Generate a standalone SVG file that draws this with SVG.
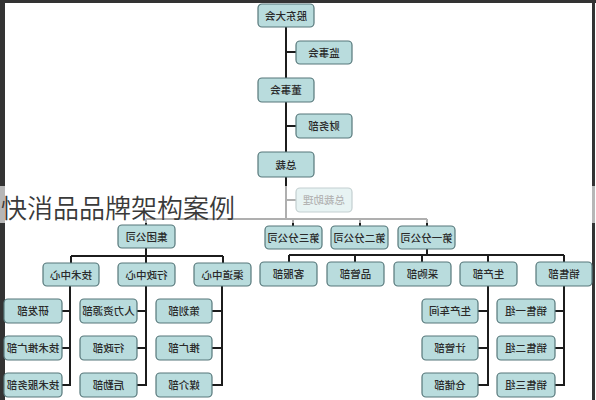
<svg xmlns="http://www.w3.org/2000/svg" width="596" height="400" viewBox="0 0 596 400">
<style>
.b rect{fill:#b9dcdd;stroke:#56777a;stroke-width:1.2}
.b text{font-family:"Noto Sans CJK SC","Noto Sans",sans-serif;font-size:10.5px;font-weight:500;fill:#2a2a2a;text-anchor:middle}
.c{stroke:#1c1c1c;stroke-width:2;fill:none}
.frame{stroke:#333;fill:none}
</style>
<rect x="0" y="0" width="596" height="400" fill="#fff"/>
<g id="frame">
<line class="frame" x1="1" y1="0" x2="1" y2="400" stroke="#999" stroke-width="2"/>
<line class="frame" x1="3.5" y1="0" x2="3.5" y2="400" stroke-width="3"/>
<line class="frame" x1="0" y1="1.5" x2="596" y2="1.5" stroke-width="3"/>
<line class="frame" x1="593.5" y1="0" x2="593.5" y2="400" stroke-width="3"/>
</g>
<g id="connectors" class="c">
<path d="M286 27V219M286 52H296M286 126H296M286 200H296"/>
<path d="M146 219H427M146 219V225M293 219V226M360 219V226M427 219V226"/>
<path d="M146 248V256M71 256H223M71 256V263M146 256V263M223 256V263"/>
<path d="M427 249V255M289 255H564M289 255V262M355 255V262M422 255V262M488 255V262M564 255V262"/>
<path d="M70 286V386M62 311H70M62 348H70M62 385H70"/>
<path d="M146 286V386M137 311H146M137 348H146M137 385H146"/>
<path d="M222 286V386M212 311H222M212 348H222M212 385H222"/>
<path d="M488 286V386M478 311H488M478 348H488M478 385H488"/>
<path d="M564 286V386M555 311H564M555 348H564M555 385H564"/>
</g>
<g id="n1" class="b"><rect x="258" y="4" width="56" height="23" rx="4"/><text x="-286" y="19.5" transform="scale(-1,1)">股东大会</text></g>
<g id="n2" class="b"><rect x="296" y="41" width="56" height="23" rx="4"/><text x="-324" y="56.5" transform="scale(-1,1)">监事会</text></g>
<g id="n3" class="b"><rect x="258" y="78" width="56" height="24" rx="4"/><text x="-286" y="94" transform="scale(-1,1)">董事会</text></g>
<g id="n4" class="b"><rect x="296" y="114" width="56" height="24" rx="4"/><text x="-324" y="130" transform="scale(-1,1)">财务部</text></g>
<g id="n5" class="b"><rect x="258" y="152" width="56" height="25" rx="4"/><text x="-286" y="168.5" transform="scale(-1,1)">总裁</text></g>
<g id="n6" class="b"><rect x="296" y="188" width="56" height="24" rx="4"/><text x="-324" y="204" transform="scale(-1,1)">总裁助理</text></g>
<g id="n7" class="b"><rect x="118" y="225" width="57" height="23" rx="4"/><text x="-146.5" y="240.5" transform="scale(-1,1)">集团公司</text></g>
<g id="n8" class="b"><rect x="265" y="226" width="57" height="23" rx="4"/><text x="-293.5" y="241.5" transform="scale(-1,1)">第三分公司</text></g>
<g id="n9" class="b"><rect x="331" y="226" width="57" height="23" rx="4"/><text x="-359.5" y="241.5" transform="scale(-1,1)">第二分公司</text></g>
<g id="n10" class="b"><rect x="398" y="226" width="57" height="23" rx="4"/><text x="-426.5" y="241.5" transform="scale(-1,1)">第一分公司</text></g>
<g id="n11" class="b"><rect x="43" y="263" width="56" height="23" rx="4"/><text x="-71" y="278.5" transform="scale(-1,1)">技术中心</text></g>
<g id="n12" class="b"><rect x="118" y="263" width="57" height="23" rx="4"/><text x="-146.5" y="278.5" transform="scale(-1,1)">行政中心</text></g>
<g id="n13" class="b"><rect x="194" y="263" width="57" height="23" rx="4"/><text x="-222.5" y="278.5" transform="scale(-1,1)">渠道中心</text></g>
<g id="n14" class="b"><rect x="260" y="262" width="57" height="24" rx="4"/><text x="-288.5" y="278" transform="scale(-1,1)">客服部</text></g>
<g id="n15" class="b"><rect x="327" y="262" width="57" height="24" rx="4"/><text x="-355.5" y="278" transform="scale(-1,1)">品管部</text></g>
<g id="n16" class="b"><rect x="394" y="262" width="57" height="24" rx="4"/><text x="-422.5" y="278" transform="scale(-1,1)">采购部</text></g>
<g id="n17" class="b"><rect x="460" y="262" width="57" height="24" rx="4"/><text x="-488.5" y="278" transform="scale(-1,1)">生产部</text></g>
<g id="n18" class="b"><rect x="536" y="262" width="56" height="24" rx="4"/><text x="-564" y="278" transform="scale(-1,1)">销售部</text></g>
<g id="n19" class="b"><rect x="4" y="299" width="58" height="24" rx="4"/><text x="-33" y="315" transform="scale(-1,1)">研发部</text></g>
<g id="n20" class="b"><rect x="4" y="336" width="58" height="24" rx="4"/><text x="-33" y="352" transform="scale(-1,1)">技术推广部</text></g>
<g id="n21" class="b"><rect x="4" y="373" width="58" height="24" rx="4"/><text x="-33" y="389" transform="scale(-1,1)">技术服务部</text></g>
<g id="n22" class="b"><rect x="80" y="299" width="57" height="24" rx="4"/><text x="-108.5" y="315" transform="scale(-1,1)">人力资源部</text></g>
<g id="n23" class="b"><rect x="80" y="336" width="57" height="24" rx="4"/><text x="-108.5" y="352" transform="scale(-1,1)">行政部</text></g>
<g id="n24" class="b"><rect x="80" y="373" width="57" height="24" rx="4"/><text x="-108.5" y="389" transform="scale(-1,1)">后勤部</text></g>
<g id="n25" class="b"><rect x="156" y="299" width="56" height="24" rx="4"/><text x="-184" y="315" transform="scale(-1,1)">策划部</text></g>
<g id="n26" class="b"><rect x="156" y="336" width="56" height="24" rx="4"/><text x="-184" y="352" transform="scale(-1,1)">推广部</text></g>
<g id="n27" class="b"><rect x="156" y="373" width="56" height="24" rx="4"/><text x="-184" y="389" transform="scale(-1,1)">媒介部</text></g>
<g id="n28" class="b"><rect x="422" y="299" width="56" height="24" rx="4"/><text x="-450" y="315" transform="scale(-1,1)">生产车间</text></g>
<g id="n29" class="b"><rect x="422" y="336" width="56" height="24" rx="4"/><text x="-450" y="352" transform="scale(-1,1)">计管部</text></g>
<g id="n30" class="b"><rect x="422" y="373" width="56" height="24" rx="4"/><text x="-450" y="389" transform="scale(-1,1)">仓储部</text></g>
<g id="n31" class="b"><rect x="497" y="299" width="58" height="24" rx="4"/><text x="-526" y="315" transform="scale(-1,1)">销售一组</text></g>
<g id="n32" class="b"><rect x="497" y="336" width="58" height="24" rx="4"/><text x="-526" y="352" transform="scale(-1,1)">销售二组</text></g>
<g id="n33" class="b"><rect x="497" y="373" width="58" height="24" rx="4"/><text x="-526" y="389" transform="scale(-1,1)">销售三组</text></g>
<rect x="0" y="186" width="596" height="37" fill="#fff" opacity="0.65"/>
<text x="1" y="218" font-family="'Noto Sans CJK SC','Noto Sans',sans-serif" font-size="26" font-weight="350" fill="#3a3a3a">快消品品牌架构案例</text>
</svg>
